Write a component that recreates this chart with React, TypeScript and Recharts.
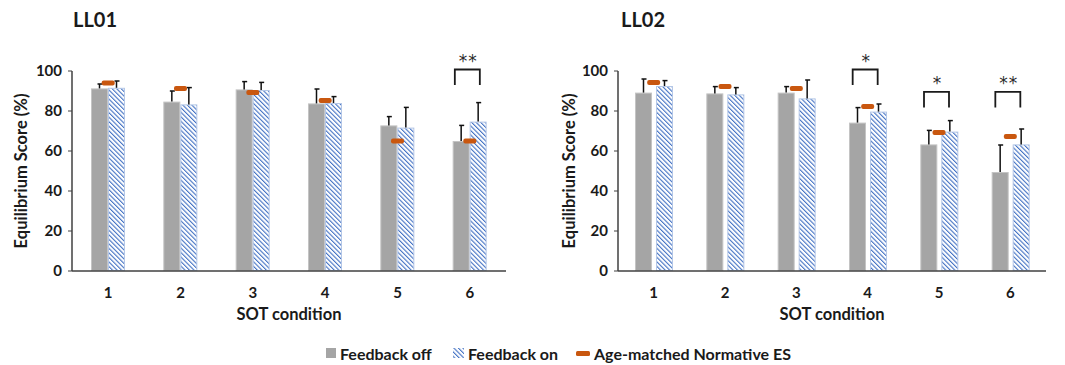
import { ComposedChart, Bar, Line, XAxis, YAxis } from 'recharts'

const conditions = ['1', '2', '3', '4', '5', '6']
const yTicks = [0, 20, 40, 60, 80, 100]

// LL01
const ll01Off = [91.3, 84.7, 90.8, 83.8, 72.8, 65]
const ll01OffErr = [2.2, 5.3, 3.9, 7.2, 4.4, 7.8]
const ll01On = [91.6, 83.3, 90.5, 84, 71.7, 74.7]
const ll01OnErr = [3.4, 8.4, 3.8, 3.2, 10.1, 9.5]
const ll01Norm = [94, 91.3, 89.3, 85.2, 65, 65]
const ll01SigBase = [null, null, null, null, null, 93]
const ll01SigStars = ['', '', '', '', '', '**']

// LL02
const ll02Off = [89.2, 88.8, 89.2, 74.2, 63.3, 49.5]
const ll02OffErr = [6.8, 3.4, 3, 7.5, 7, 13.5]
const ll02On = [92.5, 88.3, 86.3, 79.7, 69.7, 63.3]
const ll02OnErr = [2.7, 3.4, 9.2, 3.8, 5.5, 7.7]
const ll02Norm = [94.3, 92.2, 91.3, 82.2, 69.2, 67.2]
const ll02SigBase = [null, null, null, 93, 81.8, 81.8]
const ll02SigStars = ['', '', '', '*', '*', '**']

const FONT = 'Lato, "Open Sans", sans-serif'
const TEXT = '#1a1a1a'
const AXIS = '#404040'
const GRAY = '#a5a5a5'
const BLUE = '#4472c4'
const ORANGE = '#c9570f'

function buildRows(off: number[], offErr: number[], on: number[], onErr: number[], norm: number[], sig: (number | null)[], stars: string[]) {
  return conditions.map((c, i) => ({
    cond: c,
    off: off[i],
    offErr: offErr[i],
    on: on[i],
    onErr: onErr[i],
    norm: norm[i],
    sig: sig[i],
    stars: stars[i],
  }))
}

const barWithError = (errKey: string, valKey: string, fill: string, stroke: string) => (props: any) => {
  const { x, y, width, height, payload } = props
  const pxPerUnit = height / payload[valKey]
  const errPx = payload[errKey] * pxPerUnit
  const cx = x + width / 2
  return (
    <g>
      <rect x={x + 0.5} y={y + 0.5} width={width - 1} height={height - 1} fill={fill} stroke={stroke} strokeWidth={1} />
      <line x1={cx} x2={cx} y1={y} y2={y - errPx} stroke="#111" strokeWidth={1.5} />
      <line x1={cx - 2} x2={cx + 3} y1={y - errPx} y2={y - errPx} stroke="#111" strokeWidth={1.5} />
    </g>
  )
}

const normDot = (props: any) => {
  const { cx, cy, index } = props
  if (cy == null || isNaN(cy)) return <g key={`n${index}`} />
  return <rect key={`n${index}`} x={cx - 6.5} y={cy - 2.5} width={13} height={5} rx={2} fill={ORANGE} />
}

const sigDot = (props: any) => {
  const { cx, cy, index, payload } = props
  if (cy == null || isNaN(cy) || payload.sig == null) return <g key={`s${index}`} />
  const top = cy - 15.5
  const left = cx - 15
  const right = cx + 10
  return (
    <g key={`s${index}`}>
      <path d={`M${left},${cy} L${left},${top} L${right},${top} L${right},${cy}`} fill="none" stroke="#1a1a1a" strokeWidth={1.8} />
      <text x={(left + right) / 2 + 1} y={top - 3} textAnchor="middle" fontFamily='"DejaVu Sans", sans-serif' fontSize={17} fill="#2a2a2a" letterSpacing={1}>
        {payload.stars}
      </text>
    </g>
  )
}

interface PanelProps {
  rows: ReturnType<typeof buildRows>
  width: number
  marginLeft: number
  marginRight: number
  barGap: number
  labelOffset: number
}

function Panel({ rows, width, marginLeft, marginRight, barGap, labelOffset }: PanelProps) {
  return (
    <ComposedChart
      width={width}
      height={365}
      data={rows}
      margin={{ top: 71, right: marginRight, bottom: 44, left: marginLeft }}
      barSize={17}
      barGap={barGap}
    >
      <XAxis
        dataKey="cond"
        height={50}
        tickLine={false}
        tickMargin={10}
        axisLine={{ stroke: AXIS, strokeWidth: 1.5 }}
        tick={{ fill: TEXT, fontSize: 15, fontWeight: 700, fontFamily: FONT }}
        label={{ value: 'SOT condition', position: 'insideBottom', offset: 1, fill: TEXT, fontSize: 16.5, fontWeight: 700, fontFamily: FONT }}
      />
      <YAxis
        width={60}
        domain={[0, 100]}
        ticks={yTicks}
        tickSize={4}
        tickMargin={6}
        tickLine={{ stroke: AXIS }}
        axisLine={{ stroke: AXIS, strokeWidth: 1.5 }}
        tick={{ fill: TEXT, fontSize: 15, fontWeight: 700, fontFamily: FONT }}
        label={{ value: 'Equilibrium Score (%)', angle: -90, position: 'insideLeft', offset: labelOffset, style: { textAnchor: 'middle' }, fill: TEXT, fontSize: 16.5, fontWeight: 700, fontFamily: FONT }}
      />
      <Bar dataKey="off" isAnimationActive={false} shape={barWithError('offErr', 'off', GRAY, '#c4c4c4')} />
      <Bar dataKey="on" isAnimationActive={false} shape={barWithError('onErr', 'on', 'url(#hatchBlue)', '#b4c7e7')} />
      <Line dataKey="norm" stroke="none" isAnimationActive={false} activeDot={false} dot={normDot} />
      <Line dataKey="sig" stroke="none" isAnimationActive={false} activeDot={false} dot={sigDot} />
    </ComposedChart>
  )
}

function LegendItem({ icon, text, x }: { icon: JSX.Element; text: string; x: number }) {
  return (
    <div style={{ position: 'absolute', left: x, top: 343, display: 'flex', alignItems: 'center', height: 20 }}>
      {icon}
      <span style={{ marginLeft: 4, fontFamily: FONT, fontWeight: 700, fontSize: 16, color: TEXT }}>{text}</span>
    </div>
  )
}

export default function App() {
  const ll01 = buildRows(ll01Off, ll01OffErr, ll01On, ll01OnErr, ll01Norm, ll01SigBase, ll01SigStars)
  const ll02 = buildRows(ll02Off, ll02OffErr, ll02On, ll02OnErr, ll02Norm, ll02SigBase, ll02SigStars)

  return (
    <div style={{ position: 'fixed', left: 0, top: 0, width: 1065, height: 365, background: '#fff', overflow: 'hidden' }}>
      <svg width={0} height={0} style={{ position: 'absolute' }}>
        <defs>
          <pattern id="hatchBlue" width={3.2} height={3.2} patternUnits="userSpaceOnUse" patternTransform="rotate(-45)">
            <rect width={3.2} height={3.2} fill="#fff" />
            <line x1={0} y1={0} x2={0} y2={3.2} stroke={BLUE} strokeWidth={2.2} />
          </pattern>
        </defs>
      </svg>

      <div style={{ position: 'absolute', left: 73, top: 7, fontFamily: FONT, fontWeight: 700, fontSize: 20, color: TEXT }}>LL01</div>
      <div style={{ position: 'absolute', left: 621, top: 7, fontFamily: FONT, fontWeight: 700, fontSize: 20, color: TEXT }}>LL02</div>

      <div style={{ position: 'absolute', left: 0, top: 0 }}>
        <Panel rows={ll01} width={530} marginLeft={12} marginRight={24} barGap={0} labelOffset={9} />
      </div>
      <div style={{ position: 'absolute', left: 530, top: 0 }}>
        <Panel rows={ll02} width={535} marginLeft={28} marginRight={19} barGap={4} labelOffset={11} />
      </div>

      <LegendItem
        x={326}
        text="Feedback off"
        icon={<svg width={10} height={10}><rect width={10} height={10} fill={GRAY} /></svg>}
      />
      <LegendItem
        x={453}
        text="Feedback on"
        icon={<svg width={11} height={10}><rect width={11} height={10} fill="url(#hatchBlue)" /></svg>}
      />
      <LegendItem
        x={576}
        text="Age-matched Normative ES"
        icon={<svg width={14} height={10}><rect y={3} width={14} height={5} rx={1.5} fill={ORANGE} /></svg>}
      />
    </div>
  )
}
